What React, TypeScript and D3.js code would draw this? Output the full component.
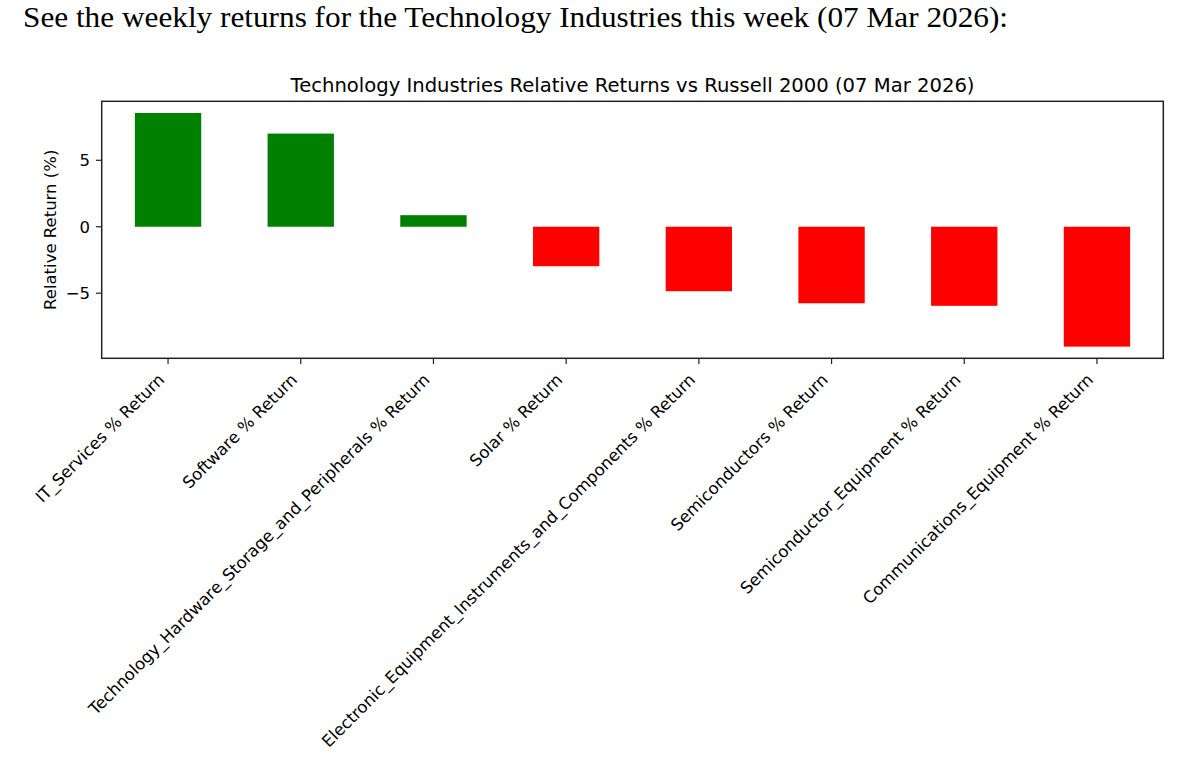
import React, { useEffect, useRef } from 'react'
import * as d3 from 'd3'

const categories = [
  'IT_Services % Return',
  'Software % Return',
  'Technology_Hardware_Storage_and_Peripherals % Return',
  'Solar % Return',
  'Electronic_Equipment_Instruments_and_Components % Return',
  'Semiconductors % Return',
  'Semiconductor_Equipment % Return',
  'Communications_Equipment % Return',
]
const relativeReturns = [8.56, 7.01, 0.87, -2.97, -4.85, -5.76, -5.95, -9.02]
const yTicks = [-5, 0, 5]

const headerText = 'See the weekly returns for the Technology Industries this week (07 Mar 2026):'
const chartTitle = 'Technology Industries Relative Returns vs Russell 2000 (07 Mar 2026)'
const yLabel = 'Relative Return (%)'

const W = 1183
const H = 767
const margin = { top: 101.3, right: W - 1163.3, bottom: H - 358.3, left: 101.7 }

const App: React.FC = () => {
  const svgRef = useRef<SVGSVGElement>(null)

  useEffect(() => {
    const svg = d3.select(svgRef.current)
    svg.selectAll('*').remove()

    const innerW = W - margin.left - margin.right
    const innerH = H - margin.top - margin.bottom
    const font = "'DejaVu Sans', sans-serif"
    const fs = 16.5

    // header line above the figure
    svg
      .append('text')
      .attr('x', 23)
      .attr('y', 27)
      .attr('font-family', "'Liberation Serif', 'DejaVu Serif', serif")
      .attr('font-size', 29)
      .attr('textLength', 985)
      .attr('lengthAdjust', 'spacingAndGlyphs')
      .attr('fill', '#000')
      .text(headerText)

    const g = svg.append('g').attr('transform', `translate(${margin.left},${margin.top})`)

    // pandas-style bar plot: categorical x with width 0.5
    const x = d3
      .scaleLinear()
      .domain([-0.5, categories.length - 0.5])
      .range([0, innerW])

    const lo = Math.min(0, d3.min(relativeReturns) as number)
    const hi = Math.max(0, d3.max(relativeReturns) as number)
    const pad = (hi - lo) * 0.05
    const y = d3
      .scaleLinear()
      .domain([lo - pad, hi + pad])
      .range([innerH, 0])

    const bw = x(0.25) - x(-0.25)

    g.selectAll('rect.bar')
      .data(relativeReturns)
      .enter()
      .append('rect')
      .attr('class', 'bar')
      .attr('x', (_d, i) => x(i) - bw / 2)
      .attr('width', bw)
      .attr('y', (d) => (d >= 0 ? y(d) : y(0)))
      .attr('height', (d) => Math.abs(y(d) - y(0)))
      .attr('fill', (d) => (d >= 0 ? '#008000' : '#ff0000'))

    // spines
    g.append('rect')
      .attr('x', 0)
      .attr('y', 0)
      .attr('width', innerW)
      .attr('height', innerH)
      .attr('fill', 'none')
      .attr('stroke', '#222')
      .attr('stroke-width', 1.5)

    const tickLen = 5.8
    const tickPad = 5.8

    // y ticks
    const yt = g.selectAll('g.ytick').data(yTicks).enter().append('g').attr('class', 'ytick')
    yt.append('line')
      .attr('x1', -tickLen)
      .attr('x2', 0)
      .attr('y1', (d) => y(d))
      .attr('y2', (d) => y(d))
      .attr('stroke', '#222')
      .attr('stroke-width', 1.2)
    yt.append('text')
      .attr('x', -tickLen - tickPad)
      .attr('y', (d) => y(d))
      .attr('dy', '0.36em')
      .attr('text-anchor', 'end')
      .attr('font-family', font)
      .attr('font-size', fs)
      .attr('fill', '#000')
      .text((d) => (d < 0 ? `\u2212${Math.abs(d)}` : `${d}`))

    // x ticks with rotated labels
    const xt = g
      .selectAll('g.xtick')
      .data(categories)
      .enter()
      .append('g')
      .attr('class', 'xtick')
    xt.append('line')
      .attr('x1', (_d, i) => x(i))
      .attr('x2', (_d, i) => x(i))
      .attr('y1', innerH)
      .attr('y2', innerH + tickLen)
      .attr('stroke', '#222')
      .attr('stroke-width', 1.2)
    const off = 6.8
    xt.append('text')
      .attr(
        'transform',
        (_d, i) => `translate(${x(i) - off},${innerH + tickLen + tickPad + off}) rotate(-45)`
      )
      .attr('dy', '0.35em')
      .attr('text-anchor', 'end')
      .attr('font-family', font)
      .attr('font-size', fs)
      .attr('fill', '#000')
      .text((d) => d)

    // y label
    svg
      .append('text')
      .attr('transform', `translate(50,${margin.top + innerH / 2}) rotate(-90)`)
      .attr('dy', '0.35em')
      .attr('text-anchor', 'middle')
      .attr('font-family', font)
      .attr('font-size', fs)
      .attr('fill', '#000')
      .text(yLabel)

    // title
    svg
      .append('text')
      .attr('x', margin.left + innerW / 2)
      .attr('y', 92)
      .attr('text-anchor', 'middle')
      .attr('font-family', font)
      .attr('font-size', 19.6)
      .attr('fill', '#000')
      .text(chartTitle)
  }, [])

  return (
    <svg
      ref={svgRef}
      width={W}
      height={H}
      style={{ position: 'absolute', left: 0, top: 0, background: '#fff' }}
    />
  )
}

export default App
